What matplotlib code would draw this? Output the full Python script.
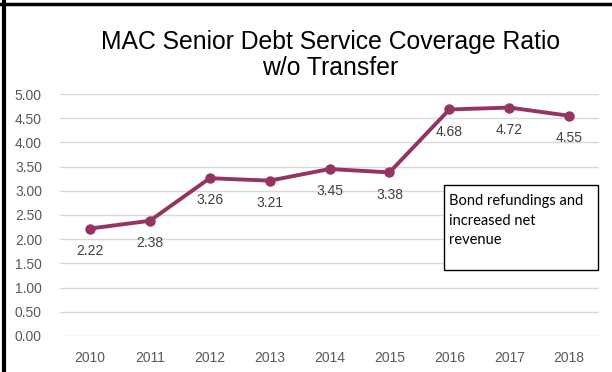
import matplotlib.pyplot as plt
from matplotlib.lines import Line2D
from matplotlib.patches import Rectangle

years = ["2010", "2011", "2012", "2013", "2014", "2015", "2016", "2017", "2018"]
ratios = [2.22, 2.38, 3.26, 3.21, 3.45, 3.38, 4.68, 4.72, 4.55]
yticks = [0.0, 0.5, 1.0, 1.5, 2.0, 2.5, 3.0, 3.5, 4.0, 4.5, 5.0]
note = "Bond refundings and\nincreased net\nrevenue"

plt.rcParams["font.family"] = ["Liberation Sans", "DejaVu Sans"]

fig = plt.figure(figsize=(6.12, 3.72), dpi=100)
ax = fig.add_axes([0.098, 0.0968, 0.881, 0.6505])

xs = list(range(len(years)))
ax.plot(xs, ratios, color="#943463", lw=2.8, marker="o", ms=6.5, zorder=3)
for x, v in zip(xs, ratios):
    ax.annotate(f"{v:.2f}", (x, v), xytext=(0, -16), textcoords="offset points",
                ha="center", va="center", fontsize=10, color="#404040")

ax.set_xlim(-0.5, len(years) - 0.5)
ax.set_ylim(0, 5)
ax.set_yticks(yticks)
ax.set_yticklabels([f"{t:.2f}" for t in yticks])
ax.set_xticks(xs)
ax.set_xticklabels(years)
ax.tick_params(length=0, labelsize=10, labelcolor="#595959")
ax.tick_params(axis="x", pad=11)
ax.tick_params(axis="y", pad=13)
ax.grid(axis="y", color="#d9d9d9", lw=1)
ax.set_axisbelow(True)
for s in ax.spines.values():
    s.set_visible(False)

fig.text(0.54, 0.852, "MAC Senior Debt Service Coverage Ratio\nw/o Transfer",
         ha="center", va="center", fontsize=17.8, color="#000000", linespacing=1.1)

# annotation box
ax.add_patch(Rectangle((0.712, 0.273), 0.286, 0.351, transform=ax.transAxes,
                       fc="white", ec="black", lw=1, zorder=4, clip_on=False))
ax.text(0.722, 0.585, note, transform=ax.transAxes, ha="left", va="top",
        fontsize=10.5, family=["Lato", "DejaVu Sans"], linespacing=1.5, zorder=5)

fig.add_artist(Line2D([0, 1], [0.99, 0.99], color="black", lw=2.5))
fig.add_artist(Line2D([0.007, 0.007], [0, 1], color="black", lw=3))

fig.savefig("out.png", dpi=100)
